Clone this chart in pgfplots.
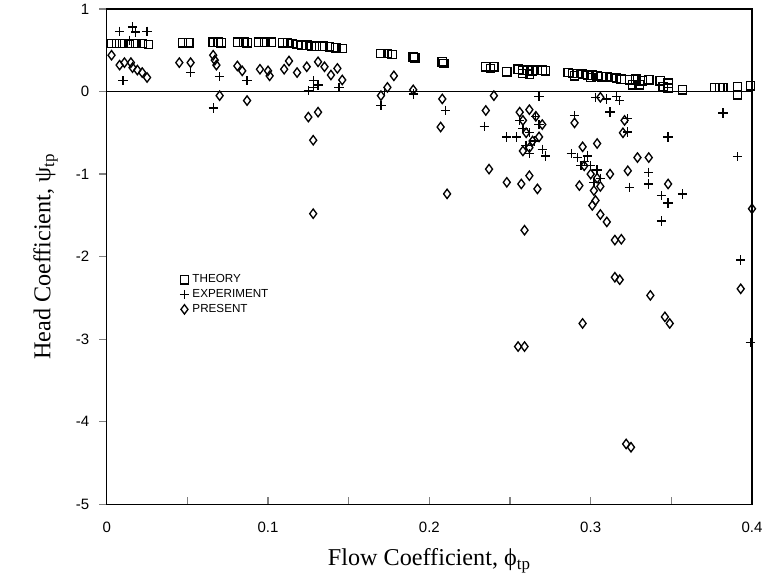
\documentclass[border=0pt]{standalone}
\usepackage{fontspec}
\setmainfont{Liberation Serif}
\newfontfamily\ticksans{Liberation Sans}
\usepackage{pgfplots}
\pgfplotsset{compat=1.18}
\usetikzlibrary{calc}

\pgfplotstableread{
x y
0.003 0.58
0.006 0.58
0.010 0.58
0.014 0.58
0.018 0.58
0.022 0.58
0.026 0.57
0.047 0.59
0.051 0.59
0.066 0.60
0.069 0.60
0.071 0.59
0.081 0.60
0.085 0.60
0.087 0.59
0.094 0.60
0.098 0.60
0.102 0.60
0.109 0.59
0.112 0.59
0.115 0.58
0.118 0.57
0.121 0.56
0.124 0.56
0.127 0.55
0.130 0.55
0.134 0.55
0.138 0.54
0.142 0.53
0.146 0.52
0.170 0.46
0.174 0.46
0.177 0.45
0.190 0.42
0.191 0.41
0.208 0.36
0.209 0.34
0.235 0.30
0.238 0.28
0.240 0.30
0.248 0.24
0.255 0.27
0.258 0.26
0.261 0.26
0.264 0.25
0.267 0.26
0.270 0.26
0.272 0.25
0.258 0.22
0.262 0.21
0.286 0.23
0.289 0.22
0.292 0.22
0.295 0.21
0.298 0.20
0.301 0.20
0.304 0.19
0.307 0.18
0.310 0.18
0.313 0.17
0.316 0.16
0.319 0.15
0.290 0.19
0.300 0.17
0.324 0.14
0.328 0.15
0.332 0.13
0.336 0.14
0.326 0.08
0.330 0.08
0.343 0.13
0.345 0.06
0.348 0.10
0.348 0.04
0.357 0.02
0.377 0.05
0.380 0.05
0.382 0.05
0.391 0.06
0.391 -0.04
0.399 0.07
}\theory

\pgfplotstableread{
x y
0.008 0.73
0.025 0.73
0.016 0.78
0.018 0.72
0.014 0.62
0.010 0.13
0.052 0.23
0.070 0.18
0.066 -0.20
0.087 0.13
0.128 0.13
0.128 0.05
0.125 0.01
0.131 0.08
0.144 0.05
0.170 -0.17
0.190 -0.03
0.172 0.00
0.268 -0.06
0.210 -0.23
0.234 -0.42
0.248 -0.55
0.256 -0.35
0.258 -0.45
0.262 -0.50
0.265 -0.60
0.268 -0.40
0.270 -0.70
0.272 -0.78
0.260 -0.65
0.266 -0.30
0.254 -0.55
0.262 -0.75
0.303 -0.07
0.310 -0.09
0.316 -0.06
0.318 -0.11
0.312 -0.25
0.323 -0.33
0.323 -0.49
0.348 -0.55
0.382 -0.26
0.391 -0.79
0.290 -0.29
0.288 -0.75
0.292 -0.80
0.296 -0.85
0.300 -0.90
0.304 -0.95
0.298 -0.78
0.306 -1.05
0.302 -1.10
0.294 -0.90
0.336 -0.98
0.336 -1.12
0.324 -1.16
0.344 -1.26
0.357 -1.24
0.348 -1.35
0.344 -1.57
0.393 -2.04
0.399 -3.04
}\experiment

\pgfplotstableread{
x y
0.003 0.44
0.008 0.32
0.011 0.35
0.015 0.35
0.016 0.29
0.019 0.26
0.022 0.23
0.025 0.17
0.045 0.35
0.052 0.35
0.066 0.44
0.067 0.38
0.068 0.32
0.070 -0.05
0.081 0.31
0.084 0.25
0.087 -0.11
0.095 0.27
0.100 0.25
0.101 0.19
0.110 0.27
0.113 0.37
0.118 0.23
0.124 0.30
0.131 0.36
0.135 0.30
0.139 0.20
0.143 0.28
0.146 0.14
0.125 -0.31
0.131 -0.25
0.128 -0.59
0.128 -1.48
0.170 -0.05
0.174 0.05
0.178 0.19
0.190 0.02
0.208 -0.09
0.207 -0.43
0.240 -0.05
0.235 -0.23
0.237 -0.94
0.248 -1.10
0.257 -1.12
0.262 -1.02
0.267 -1.18
0.211 -1.24
0.256 -0.25
0.258 -0.35
0.262 -0.22
0.266 -0.30
0.270 -0.40
0.260 -0.50
0.264 -0.60
0.268 -0.55
0.258 -0.72
0.262 -0.68
0.290 -0.38
0.295 -0.67
0.304 -0.63
0.293 -1.14
0.312 -1.00
0.323 -0.96
0.329 -0.80
0.336 -0.80
0.348 -1.12
0.306 -0.07
0.321 -0.35
0.320 -0.50
0.296 -0.90
0.300 -1.00
0.304 -1.05
0.306 -1.15
0.302 -1.20
0.259 -1.68
0.255 -3.09
0.259 -3.09
0.301 -1.38
0.303 -1.32
0.306 -1.49
0.310 -1.58
0.315 -1.80
0.319 -1.79
0.315 -2.25
0.318 -2.28
0.337 -2.47
0.346 -2.73
0.349 -2.81
0.295 -2.81
0.400 -1.42
0.393 -2.39
0.322 -4.27
0.325 -4.31
}\present

\begin{document}
\begin{tikzpicture}
\begin{axis}[
  scale only axis,
  width=387pt, height=297pt,
  xmin=0, xmax=0.4, ymin=-5, ymax=1,
  clip=false,
  axis line style={line width=0.8pt},
  xtick={0,0.1,0.2,0.3,0.4},
  xticklabels={0,0.1,0.2,0.3,0.4},
  minor xtick={0.05,0.15,0.25,0.35},
  ytick={-5,-4,-3,-2,-1,0,1},
  xtick pos=bottom, ytick pos=left,
  tick align=inside,
  major tick length=4.5pt, minor tick length=4.5pt,
  y tick style={xshift=-4.5pt, line width=0.7pt},
  x tick style={line width=0.7pt},
  tick label style={font=\ticksans\fontsize{9}{10}\selectfont},
  /pgf/number format/assume math mode=true,
  xticklabel style={yshift=-7pt},
  yticklabel style={xshift=-7pt},
  xlabel={Flow Coefficient,\ ϕ\textsubscript{tp}},
  ylabel={Head Coefficient,\ ψ\textsubscript{tp}},
  label style={font=\fontsize{14.5}{16}\selectfont},
  xlabel style={yshift=-3pt},
  ylabel style={yshift=4pt},
  legend style={at={(0.105,0.478)}, anchor=north west, draw=none, fill=none,
    font=\ticksans\fontsize{7}{7.5}\selectfont, row sep=-1.5pt,
    cells={anchor=west}},
  legend cell align=left,
]
\addplot[black, line width=0.6pt, forget plot] coordinates {(0,0) (0.4,0)};
\addplot[only marks, mark=square, mark size=2.5pt, mark options={line width=0.8pt}] table {\theory};
\addplot[only marks, mark=+, mark size=2.8pt, mark options={line width=0.8pt}] table {\experiment};
\addplot[only marks, mark=diamond, mark size=2.8pt, mark options={line width=0.8pt}] table {\present};
\legend{THEORY, EXPERIMENT, PRESENT}
\end{axis}
\pgfresetboundingbox
\path ($(current axis.south west)+(-64pt,-49pt)$) rectangle ($(current axis.north east)+(9pt,5.4pt)$);
\end{tikzpicture}
\end{document}
